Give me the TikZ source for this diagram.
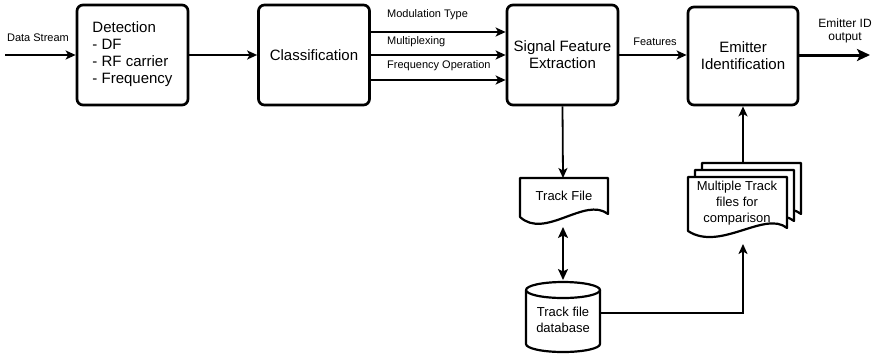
\documentclass[tikz,border=0pt]{standalone}
\usepackage{fontspec}
\setmainfont{Liberation Sans}
\usetikzlibrary{arrows.meta,calc}
\begin{document}
\begin{tikzpicture}[x=1pt,y=-1pt,
 box/.style={draw,line width=2.7pt,rounded corners=6pt,minimum width=111pt,minimum height=100pt,inner sep=0pt,font=\fontsize{15}{17}\selectfont,align=center},
 arr/.style={line width=1.8pt,-{Stealth[length=10pt,width=9pt,inset=2.5pt]}},
 darr/.style={line width=2pt,{Stealth[length=11pt,width=10pt,inset=2.5pt]}-{Stealth[length=11pt,width=10pt,inset=2.5pt]}},
 lbl/.style={font=\fontsize{11}{13}\selectfont,inner sep=0pt},
 doctext/.style={font=\fontsize{13}{16}\selectfont,align=center,inner sep=0pt},
 doc/.style={draw,line width=2.2pt,fill=white,line join=round}]
\useasboundingbox (0,0) rectangle (878,354);

% main boxes
\node[box] (det) at (132.5,55) {\begin{tabular}{@{}l@{}}Detection\\- DF\\- RF carrier\\- Frequency\end{tabular}};
\node[box] (cls) at (314,55) {Classification};
\node[box] (sfe) at (562.5,55) {Signal Feature\\Extraction};
\node[box,minimum width=110pt,minimum height=98pt] (emi) at (743,56) {Emitter\\Identification};

% input
\coordinate (in) at (5,55);
\node[lbl] (dslbl) at (38,38) {Data Stream};
\draw[arr] (in) -- (det.west |- in);
\draw[arr] (det.east |- in) -- (cls.west |- in);

% classification -> SFE
\draw[arr] ([yshift=23pt]cls.east) -- ([yshift=23pt]sfe.west);
\draw[arr] (cls.east |- in) -- (sfe.west |- in);
\draw[arr] ([yshift=-25pt]cls.east) -- ([yshift=-25pt]sfe.west);
\node[lbl,anchor=west] (l1) at (387,15) {Modulation Type};
\node[lbl,anchor=west] (l2) at (387,42) {Multiplexing};
\node[lbl,anchor=west] (l3) at (387,66) {Frequency Operation};

% SFE -> Emitter
\draw[arr] (sfe.east |- in) -- (emi.west |- in);
\node[lbl] (feat) at (655,42) {Features};

% output
\coordinate (out) at (870,55);
\draw[line width=3pt,-{Stealth[length=13pt,width=12pt,inset=3pt]}] (emi.east |- out) -- (out);
\node[font=\fontsize{12}{13}\selectfont,align=center,inner sep=0pt] (outlbl) at (845,31) {Emitter ID\\output};

% Track file document
\draw[doc] (520,178) -- (608,178) -- (608,214) .. controls (585,196) and (545,240) .. (520,217) -- cycle;
\node[doctext] (tf) at (564,196) {Track File};
\coordinate (tftop) at (563,178);
\draw[arr] (sfe.south) -- (tftop);

% database cylinder
\draw[doc] (526,290) -- (526,344) arc[start angle=180,end angle=360,x radius=37pt,y radius=8pt] -- (600,290);
\draw[doc] (563,290) ellipse[x radius=37pt,y radius=8pt];
\node[doctext] (db) at (563,320) {Track file\\database};
\coordinate (tfbot) at (563,227);
\coordinate (dbtop) at (563,280);
\draw[darr] (tfbot) -- (dbtop);

% multiple track files
\foreach \d in {14,7,0}
  \draw[doc,shift={(\d,-\d)}] (688,177) -- (787,177) -- (787,228) .. controls (765,210) and (720,252) .. (688,231) -- cycle;
\node[doctext] (mt) at (737,203) {Multiple Track\\files for\\comparison};
\coordinate (dbout) at (600,313);
\coordinate (mtbot) at (743,244);
\coordinate (mttop) at (743,163);
\draw[arr] (dbout) -| (mtbot);
\draw[arr] (mttop) -- (emi.south);
\end{tikzpicture}
\end{document}
